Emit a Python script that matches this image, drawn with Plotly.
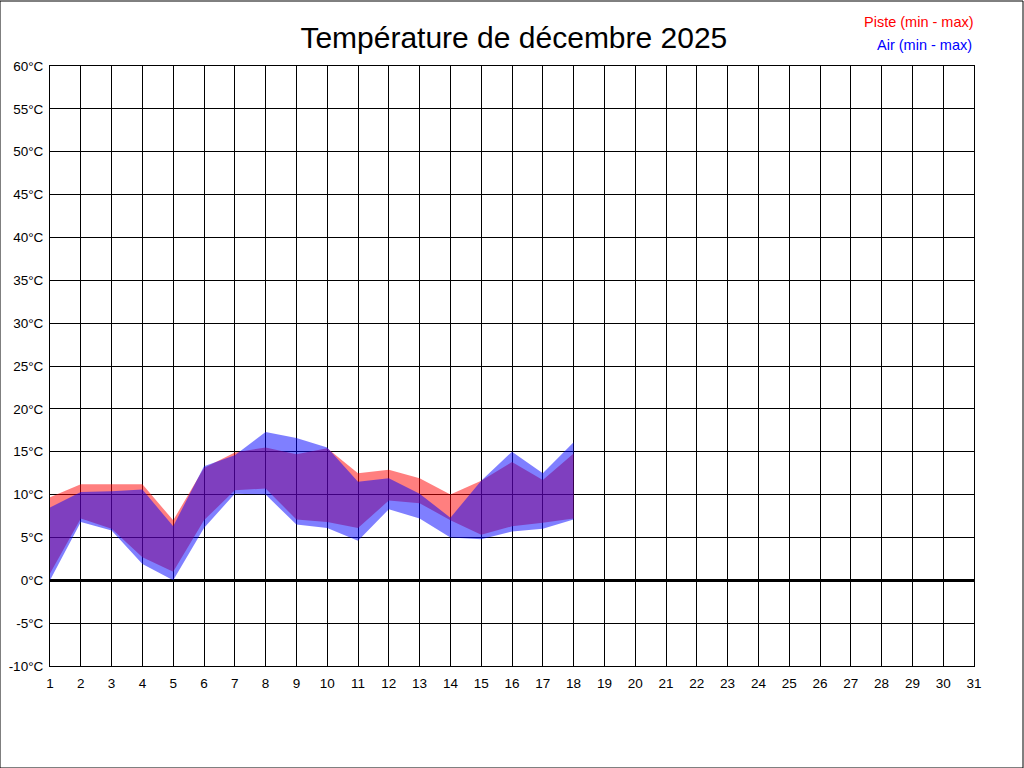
import plotly.graph_objects as go

# jours du mois
days = list(range(1, 19))

# température piste (min / max)
piste_min = [0.8, 7.2, 6.0, 2.7, 1.0, 7.0, 10.5, 10.7, 7.1, 6.8, 6.1, 9.3, 9.0, 7.0, 5.3, 6.3, 6.7, 7.2]
piste_max = [9.7, 11.2, 11.2, 11.2, 7.0, 13.1, 14.9, 15.5, 14.7, 15.4, 12.5, 12.9, 11.9, 10.0, 11.6, 13.8, 11.7, 14.8]

# température air (min / max)
air_min = [0.0, 6.8, 5.8, 1.9, 0.0, 6.1, 10.1, 10.0, 6.5, 6.1, 4.6, 8.3, 7.2, 5.0, 4.8, 5.7, 6.0, 7.1]
air_max = [8.5, 10.3, 10.4, 10.6, 6.3, 13.3, 14.6, 17.3, 16.6, 15.5, 11.5, 11.9, 10.1, 7.3, 11.6, 15.0, 12.5, 16.1]

y_ticks = list(range(-10, 61, 5))
y_labels = [f"{v}°C" for v in y_ticks]
x_ticks = list(range(1, 32))

fig = go.Figure()

fig.add_trace(go.Scatter(x=days, y=piste_min, mode='lines', line=dict(width=0),
                         showlegend=False, hoverinfo='skip'))
fig.add_trace(go.Scatter(x=days, y=piste_max, mode='lines', line=dict(width=0),
                         fill='tonexty', fillcolor='rgba(255,0,0,0.5)', showlegend=False))
fig.add_trace(go.Scatter(x=days, y=air_min, mode='lines', line=dict(width=0),
                         showlegend=False, hoverinfo='skip'))
fig.add_trace(go.Scatter(x=days, y=air_max, mode='lines', line=dict(width=0),
                         fill='tonexty', fillcolor='rgba(0,0,255,0.5)', showlegend=False))

W, H = 1024, 768
ml, mr, mt, mb = 50, 50, 66, 102
pw, ph = W - ml - mr, H - mt - mb

fig.update_layout(
    width=W, height=H,
    margin=dict(l=ml, r=mr, t=mt, b=mb, pad=0),
    paper_bgcolor='white', plot_bgcolor='white',
    font=dict(family='Liberation Sans, Arial', size=13.5, color='black'),
    title=dict(text='Température de décembre 2025', x=0.502, xref='paper',
               y=1 - 37 / H, yref='container', xanchor='center', yanchor='middle',
               font=dict(size=30, color='black')),
    xaxis=dict(range=[1, 31], tickvals=x_ticks, ticktext=[str(v) for v in x_ticks],
               showgrid=True, gridcolor='black', gridwidth=1,
               showline=True, linecolor='black', linewidth=1, mirror=True,
               zeroline=False, ticks='', ticklabelstandoff=5, automargin=False,
               fixedrange=True),
    yaxis=dict(range=[-10, 60], tickvals=y_ticks, ticktext=y_labels,
               showgrid=True, gridcolor='black', gridwidth=1,
               showline=True, linecolor='black', linewidth=1, mirror=True,
               zeroline=True, zerolinecolor='black', zerolinewidth=3,
               ticks='', ticklabelstandoff=3, automargin=False, fixedrange=True),
    annotations=[
        dict(text='Piste (min - max)', x=976, y=22, xref='x domain', yref='y domain',
             showarrow=False, font=dict(color='red', size=14.5)),
        dict(text='Air (min - max)', x=974, y=45, xref='x domain', yref='y domain',
             showarrow=False, font=dict(color='blue', size=14.5)),
    ],
    shapes=[dict(type='rect', xref='paper', yref='paper',
                 x0=-ml / pw, x1=1 + (mr - 1) / pw,
                 y0=-mb / ph, y1=1 + (mt - 1) / ph,
                 line=dict(color='black', width=1))],
)

# positions des annotations en pixels -> fraction du domaine
for a in fig.layout.annotations:
    px_x, px_y = a.x, a.y
    a.x = (px_x - ml) / pw
    a.y = 1 - (px_y - mt) / ph
    a.xanchor = 'right'
    a.yanchor = 'middle'

fig.write_html("out.html", config={'displayModeBar': False},
               post_script="document.body.style.margin='0';")
